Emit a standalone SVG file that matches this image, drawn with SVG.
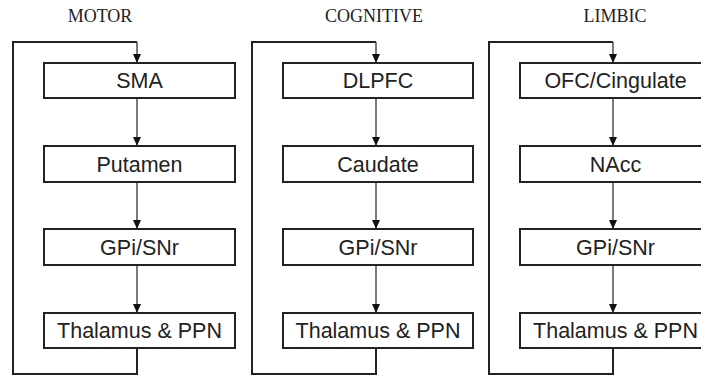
<svg xmlns="http://www.w3.org/2000/svg" width="701" height="376" viewBox="0 0 701 376">
  <style>
    .title { font-family: "Liberation Serif", "Times New Roman", serif; font-size: 18px; fill: #222; text-anchor: middle; }
    .box rect { fill: #fff; stroke: #222; stroke-width: 2; }
    .box text { font-family: "Liberation Sans", Arial, sans-serif; font-size: 21.5px; fill: #222; text-anchor: middle; }
    .loop { fill: none; stroke: #222; stroke-width: 2; }
    .arrow { fill: none; stroke: #333; stroke-width: 1.3; marker-end: url(#head); }
  </style>
  <defs>
    <!-- solid triangular arrowhead, tip at the path end -->
    <marker id="head" markerUnits="userSpaceOnUse" markerWidth="10" markerHeight="8" refX="9" refY="4" orient="auto" viewBox="0 0 10 8">
      <path d="M0,0 L9,4 L0,8 Z" fill="#111"/>
    </marker>
  </defs>
  <rect width="701" height="376" fill="#fff"/>

  <text class="title" x="100" y="22">MOTOR</text>
  <text class="title" x="374" y="22">COGNITIVE</text>
  <text class="title" x="615" y="22">LIMBIC</text>

  <g id="connectors">
    <!-- motor loop -->
    <path class="loop" d="M137,348 V374 H13 V42 H137"/>
    <path class="arrow" d="M137,42 V63"/>
    <path class="arrow" d="M137,98 V146"/>
    <path class="arrow" d="M137,182 V229"/>
    <path class="arrow" d="M137,265 V313"/>
    <!-- cognitive loop -->
    <path class="loop" d="M376,348 V374 H252 V42 H376"/>
    <path class="arrow" d="M376,42 V63"/>
    <path class="arrow" d="M376,98 V146"/>
    <path class="arrow" d="M376,182 V229"/>
    <path class="arrow" d="M376,265 V313"/>
    <!-- limbic loop -->
    <path class="loop" d="M613,348 V374 H489 V42 H613"/>
    <path class="arrow" d="M613,42 V63"/>
    <path class="arrow" d="M613,98 V146"/>
    <path class="arrow" d="M613,182 V229"/>
    <path class="arrow" d="M613,265 V313"/>
  </g>

  <g id="sma" class="box"><rect x="44" y="63" width="191" height="35"/><text x="139.5" y="88">SMA</text></g>
  <g id="putamen" class="box"><rect x="44" y="146" width="191" height="36"/><text x="139.5" y="171.5">Putamen</text></g>
  <g id="gpi-snr-motor" class="box"><rect x="44" y="229" width="191" height="36"/><text x="139.5" y="254.5">GPi/SNr</text></g>
  <g id="thalamus-motor" class="box"><rect x="44" y="313" width="191" height="35"/><text x="139.5" y="338">Thalamus &amp; PPN</text></g>

  <g id="dlpfc" class="box"><rect x="283" y="63" width="190" height="35"/><text x="378" y="88">DLPFC</text></g>
  <g id="caudate" class="box"><rect x="283" y="146" width="190" height="36"/><text x="378" y="171.5">Caudate</text></g>
  <g id="gpi-snr-cognitive" class="box"><rect x="283" y="229" width="190" height="36"/><text x="378" y="254.5">GPi/SNr</text></g>
  <g id="thalamus-cognitive" class="box"><rect x="283" y="313" width="190" height="35"/><text x="378" y="338">Thalamus &amp; PPN</text></g>

  <g id="ofc-cingulate" class="box"><rect x="520" y="63" width="191" height="35"/><text x="615.5" y="88">OFC/Cingulate</text></g>
  <g id="nacc" class="box"><rect x="520" y="146" width="191" height="36"/><text x="615.5" y="171.5">NAcc</text></g>
  <g id="gpi-snr-limbic" class="box"><rect x="520" y="229" width="191" height="36"/><text x="615.5" y="254.5">GPi/SNr</text></g>
  <g id="thalamus-limbic" class="box"><rect x="520" y="313" width="191" height="35"/><text x="615.5" y="338">Thalamus &amp; PPN</text></g>
</svg>
